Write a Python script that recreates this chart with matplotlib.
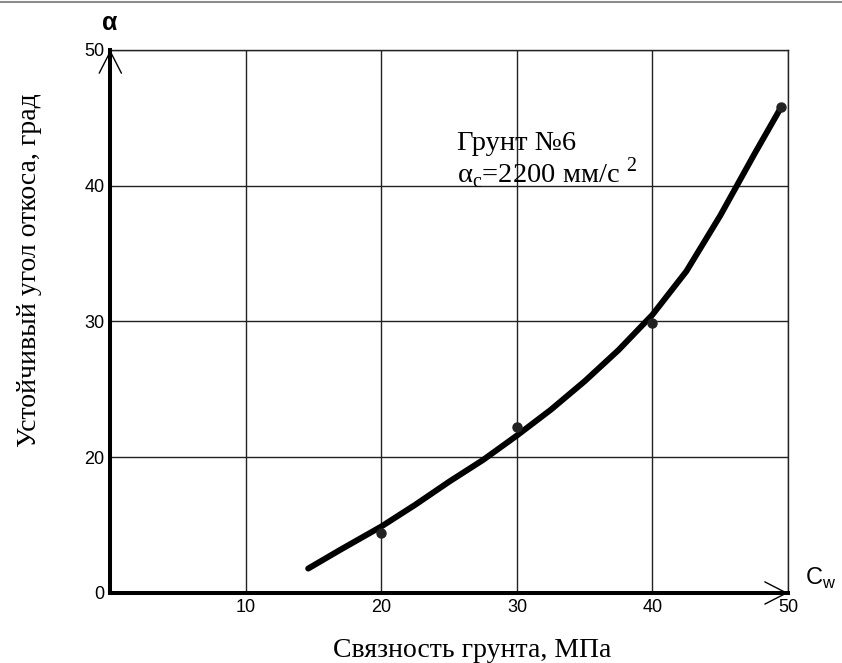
import matplotlib
matplotlib.use('Agg')
import matplotlib.pyplot as plt
from matplotlib.lines import Line2D

plt.rcParams['font.family'] = 'Liberation Sans'

# --- данные ---
# экспериментальные точки: связность грунта (МПа) -> устойчивый угол откоса (град)
c_points = [20, 30, 40, 49.5]
alpha_points = [14.4, 22.2, 29.9, 45.8]

# сглаживающая кривая, снятая по точкам
c_curve = [14.6, 17, 20, 22.5, 25, 27.5, 30, 32.5, 35, 37.5, 40, 42.5, 45, 47.5, 49.5]
alpha_curve = [11.8, 13.2, 14.9, 16.5, 18.2, 19.8, 21.6, 23.5, 25.6, 27.9, 30.5, 33.7, 37.8, 42.3, 45.8]

# подписи осей (нижняя линия оси ординат подписана как 0)
x_ticks = [0, 10, 20, 30, 40, 50]
x_tick_labels = ['', '10', '20', '30', '40', '50']
y_ticks = [10, 20, 30, 40, 50]
y_tick_labels = ['0', '20', '30', '40', '50']

serif = 'Liberation Serif'

fig = plt.figure(figsize=(8.42, 6.63), dpi=100)
ax = fig.add_axes([0.131, 0.1056, 0.8049, 0.819])
ax.set_xlim(0, 50)
ax.set_ylim(10, 50)
ax.set_xticks(x_ticks, x_tick_labels)
ax.set_yticks(y_ticks, y_tick_labels)
ax.tick_params(length=0, labelsize=13, pad=4)
ax.grid(True, color='#222222', lw=1.0)
ax.set_axisbelow(True)

for s in ['left', 'bottom']:
    ax.spines[s].set_linewidth(2.9)
    ax.spines[s].set_zorder(5)
for s in ['top', 'right']:
    ax.spines[s].set_linewidth(1.0)
    ax.spines[s].set_color('#222222')

# кривая и точки
ax.plot(c_curve, alpha_curve, color='black', lw=4.3,
        solid_capstyle='round', solid_joinstyle='round', zorder=3)
ax.plot(c_points, alpha_points, 'o', color='#222222', ms=6.5, zorder=4)

# стрелки на концах осей (тонкие)
arrow = dict(arrowstyle='->,head_length=1.56,head_width=0.8', lw=1.0,
             color='black', shrinkA=0, shrinkB=0, mutation_scale=10)
ax.annotate('', xy=(0, 1), xytext=(0, 0.95), xycoords='axes fraction',
            arrowprops=arrow, annotation_clip=False)
ax.annotate('', xy=(1, 0), xytext=(0.95, 0), xycoords='axes fraction',
            arrowprops=arrow, annotation_clip=False)

# обозначения осей
fig.text(110 / 842, 1 - 22.5 / 663, 'α', fontsize=18, fontweight='bold',
         ha='center', va='center')
fig.text(805 / 842, 1 - 585 / 663, 'C$_\\mathregular{w}$', fontsize=17,
         ha='left', va='baseline')

# подпись на поле графика
ax.text(25.55, 42.6, 'Грунт №6', family=serif, fontsize=20.5, va='baseline')
ax.text(25.55, 40.2, 'α$_\\mathregular{c}$=2200 мм/с $^\\mathregular{2}$',
        family=serif, fontsize=20.5, va='baseline')

# названия осей
fig.text(472 / 842, 1 - 656.7 / 663, 'Связность грунта, МПа', family=serif,
         fontsize=20, ha='center', va='baseline')
fig.text(29.5 / 842, 1 - 270 / 663, 'Устойчивый угол откоса, град', family=serif,
         fontsize=20, rotation=90, ha='center', va='center')

# серая линия по верхнему краю
fig.add_artist(Line2D([0, 1], [0.9975, 0.9975], transform=fig.transFigure,
                      color='#8c8c8c', lw=1.5))

fig.savefig('out.png', dpi=100)
